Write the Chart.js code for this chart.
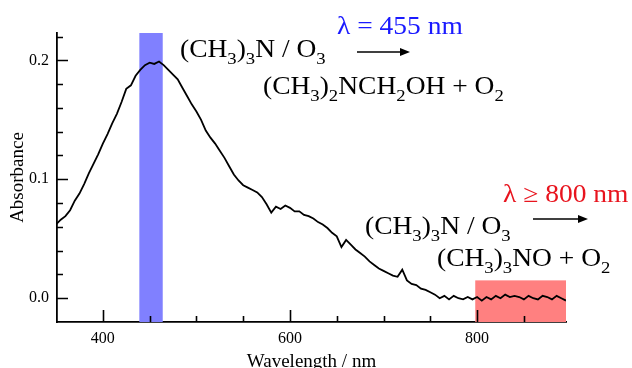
<!DOCTYPE html>
<html>
<head>
<meta charset="utf-8">
<script src="https://cdn.jsdelivr.net/npm/chart.js@4.4.1/dist/chart.umd.min.js"></script>
<style>
  html, body { margin: 0; padding: 0; background: #fff; }
</style>
</head>
<body>
<canvas id="absChart" width="632" height="368"></canvas>
<script>
const wavelengths = [
  350, 355, 360, 365, 370, 375, 380, 385, 390, 395,
  400, 405, 410, 415, 420, 425, 430, 435, 440, 445,
  450, 455, 460, 465, 470, 475, 480, 485, 490, 495,
  500, 505, 510, 515, 520, 525, 530, 535, 540, 545,
  550, 555, 560, 565, 570, 575, 580, 585, 590, 595,
  600, 605, 610, 615, 620, 625, 630, 635, 640, 645,
  650, 655, 660, 665, 670, 675, 680, 685, 690, 695,
  700, 705, 710, 715, 720, 725, 730, 735, 740, 745,
  750, 755, 760, 765, 770, 775, 780, 785, 790, 795,
  800, 805, 810, 815, 820, 825, 830, 835, 840, 845,
  850, 855, 860, 865, 870, 875, 880, 885, 890, 895
];
const absorbance = [
  0.062, 0.066, 0.069, 0.074, 0.082, 0.088, 0.096, 0.105, 0.113, 0.121,
  0.130, 0.138, 0.147, 0.155, 0.165, 0.176, 0.179, 0.187, 0.192, 0.196,
  0.198, 0.197, 0.199, 0.196, 0.192, 0.188, 0.184, 0.177, 0.170, 0.163,
  0.157, 0.150, 0.141, 0.135, 0.130, 0.124, 0.118, 0.111, 0.104, 0.099,
  0.095, 0.093, 0.091, 0.089, 0.085, 0.079, 0.072, 0.077, 0.075, 0.078,
  0.076, 0.073, 0.073, 0.070, 0.069, 0.067, 0.064, 0.062, 0.059, 0.055,
  0.052, 0.043, 0.049, 0.045, 0.041, 0.038, 0.035, 0.031, 0.028, 0.025,
  0.023, 0.021, 0.019, 0.018, 0.024, 0.015, 0.012, 0.011, 0.008, 0.007,
  0.005, 0.003, 0.000, 0.002, -0.001, 0.002, 0.000, -0.001, 0.001, -0.001,
  0.001, -0.002, 0.001, -0.001, 0.002, 0.000, 0.003, 0.001, 0.002, 0.001,
  -0.001, 0.002, 0.000, -0.001, 0.002, 0.001, -0.001, 0.002, 0.000, -0.002
];
const xMajorTicks = [400, 600, 800];
const xMinorTicks = [450, 500, 550, 650, 700, 750, 850];
const yMajorTicks = [0.0, 0.1, 0.2];
const yMinorTicks = [0.02, 0.04, 0.06, 0.08, 0.12, 0.14, 0.16, 0.18, 0.22];
const blueBand = [439, 464];
const redBand = [798, 895];
const redBandTop = 0.015;

const serif = '"Liberation Serif", "DejaVu Serif", serif';

// text with subscripts: each piece is [text, isSub]
function drawRich(ctx, pieces, x, y, size, color, sx) {
  ctx.save();
  ctx.translate(x, y);
  ctx.scale(sx, 1);
  ctx.fillStyle = color;
  ctx.textBaseline = 'alphabetic';
  ctx.textAlign = 'left';
  let cx = 0;
  pieces.forEach(([txt, sub]) => {
    const fs = sub ? Math.round(size * 0.68) : size;
    ctx.font = fs + 'px ' + serif;
    ctx.fillText(txt, cx, sub ? size * 0.26 : 0);
    cx += ctx.measureText(txt).width;
  });
  ctx.restore();
}

function drawArrow(ctx, x1, x2, y) {
  ctx.save();
  ctx.strokeStyle = '#000';
  ctx.fillStyle = '#000';
  ctx.lineWidth = 1.6;
  ctx.beginPath();
  ctx.moveTo(x1, y);
  ctx.lineTo(x2 - 8, y);
  ctx.stroke();
  ctx.beginPath();
  ctx.moveTo(x2, y);
  ctx.lineTo(x2 - 10, y - 4);
  ctx.lineTo(x2 - 10, y + 4);
  ctx.closePath();
  ctx.fill();
  ctx.restore();
}

const bandsAndTicks = {
  id: 'bandsAndTicks',
  beforeDatasetsDraw(chart) {
    const { ctx, chartArea: { top, bottom }, scales: { x, y } } = chart;
    ctx.save();
    ctx.fillStyle = '#8080ff';
    const b0 = x.getPixelForValue(blueBand[0]);
    const b1 = x.getPixelForValue(blueBand[1]);
    ctx.fillRect(b0, top, b1 - b0, bottom - top);
    ctx.fillStyle = '#ff8080';
    const r0 = x.getPixelForValue(redBand[0]);
    const r1 = x.getPixelForValue(redBand[1]);
    const ry = y.getPixelForValue(redBandTop);
    ctx.fillRect(r0, ry, r1 - r0, bottom - ry);
    ctx.restore();
  },
  afterDatasetsDraw(chart) {
    const { ctx, chartArea: { left, bottom }, scales: { x, y } } = chart;
    ctx.save();
    ctx.strokeStyle = '#000';
    ctx.lineWidth = 1.6;
    ctx.beginPath();
    xMajorTicks.forEach(v => {
      const px = Math.round(x.getPixelForValue(v)) + 0.5;
      ctx.moveTo(px, bottom);
      ctx.lineTo(px, bottom - 12);
    });
    xMinorTicks.forEach(v => {
      const px = Math.round(x.getPixelForValue(v)) + 0.5;
      ctx.moveTo(px, bottom);
      ctx.lineTo(px, bottom - 6);
    });
    yMajorTicks.forEach(v => {
      const py = Math.round(y.getPixelForValue(v)) + 0.5;
      ctx.moveTo(left, py);
      ctx.lineTo(left + 11, py);
    });
    yMinorTicks.forEach(v => {
      const py = Math.round(y.getPixelForValue(v)) + 0.5;
      ctx.moveTo(left, py);
      ctx.lineTo(left + 6, py);
    });
    ctx.stroke();
    ctx.restore();
  },
  afterDraw(chart) {
    const ctx = chart.ctx;
    // upper reaction, 455 nm
    drawRich(ctx, [['\u03bb = 455 nm', 0]], 337, 34, 25, '#1a1aff', 1.1);
    drawRich(ctx, [['(CH', 0], ['3', 1], [')', 0], ['3', 1], ['N / O', 0], ['3', 1]], 180, 57, 25, '#000', 1.1);
    drawArrow(ctx, 357, 410, 52);
    drawRich(ctx, [['(CH', 0], ['3', 1], [')', 0], ['2', 1], ['NCH', 0], ['2', 1], ['OH + O', 0], ['2', 1]], 263, 94, 25, '#000', 1.1);
    // lower reaction, >= 800 nm
    drawRich(ctx, [['\u03bb \u2265 800 nm', 0]], 503, 202, 25, '#e8141e', 1.1);
    drawRich(ctx, [['(CH', 0], ['3', 1], [')', 0], ['3', 1], ['N / O', 0], ['3', 1]], 365, 234, 25, '#000', 1.1);
    drawArrow(ctx, 533, 588, 219);
    drawRich(ctx, [['(CH', 0], ['3', 1], [')', 0], ['3', 1], ['NO + O', 0], ['2', 1]], 437, 266, 25, '#000', 1.1);
  }
};

const config = {
  type: 'line',
  data: {
    datasets: [{
      data: wavelengths.map((w, i) => ({ x: w, y: absorbance[i] })),
      borderColor: '#000',
      borderWidth: 1.8,
      pointRadius: 0,
      tension: 0,
      fill: false
    }]
  },
  options: {
    responsive: false,
    animation: false,
    devicePixelRatio: 1,
    layout: {
      padding: { top: 33, right: 66, left: 0, bottom: 0 }
    },
    plugins: {
      legend: { display: false },
      tooltip: { enabled: false }
    },
    scales: {
      x: {
        type: 'linear',
        min: 351,
        max: 895,
        z: 1,
        afterFit(scale) { scale.height = 46; },
        afterBuildTicks(scale) { scale.ticks = xMajorTicks.map(v => ({ value: v })); },
        grid: { display: true, drawOnChartArea: false, drawTicks: false },
        border: { display: true, color: '#000', width: 1.8 },
        ticks: {
          padding: 7,
          color: '#000',
          font: { family: serif, size: 16 },
          callback: v => String(v)
        },
        title: {
          display: true,
          text: 'Wavelength / nm',
          color: '#000',
          font: { family: serif, size: 19 },
          padding: { top: 0, bottom: -5 }
        }
      },
      y: {
        min: -0.02,
        max: 0.223,
        z: 1,
        afterFit(scale) { scale.width = 57; },
        afterBuildTicks(scale) { scale.ticks = yMajorTicks.map(v => ({ value: v })); },
        grid: { display: true, drawOnChartArea: false, drawTicks: false },
        border: { display: true, color: '#000', width: 1.8 },
        ticks: {
          padding: 8,
          color: '#000',
          font: { family: serif, size: 16 },
          callback: v => v.toFixed(1)
        },
        title: {
          display: true,
          text: 'Absorbance',
          color: '#000',
          font: { family: serif, size: 19 },
          padding: { top: 7, bottom: 0 }
        }
      }
    }
  },
  plugins: [bandsAndTicks]
};

const absChart = new Chart(document.getElementById('absChart'), config);
</script>
</body>
</html>
